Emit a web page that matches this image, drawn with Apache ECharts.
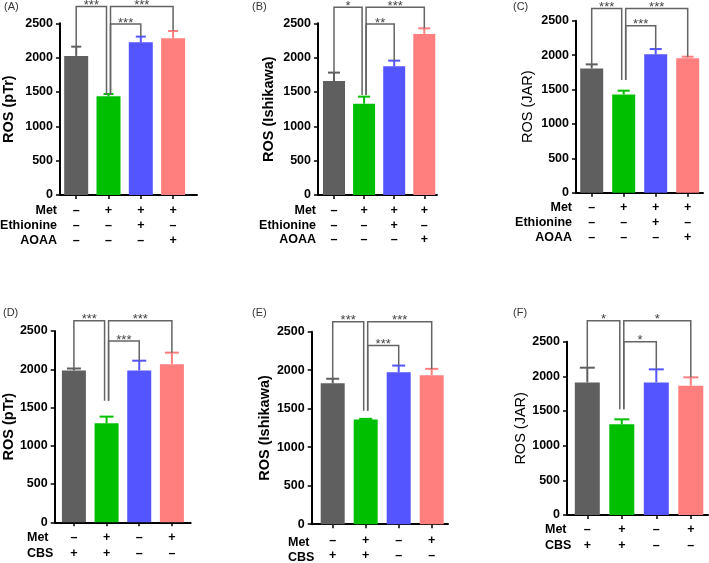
<!DOCTYPE html>
<html><head><meta charset="utf-8">
<script src="https://cdn.jsdelivr.net/npm/echarts/dist/echarts.min.js"></script>
<style>html,body{margin:0;padding:0;background:#fff}#c{width:709px;height:563px}</style>
</head><body><div id="c"></div><script>
// ---------------- data ----------------
const barColors = ['#5f5f5f', '#00bf00', '#5555ff', '#ff7f7f'];
const groupIndex = [0, 1, 2, 3];
const yMin = 0, yMax = 2500, yStep = 500;

const meanA = [2025, 1437, 2223, 2282], errA = [135, 34, 83, 106];
const meanB = [1660, 1330, 1874, 2345], errB = [122, 102, 82, 82];
const meanC = [1807, 1429, 2011, 1953], errC = [58, 54, 77, 24];
const meanD = [1985, 1294, 1985, 2064], errD = [25, 87, 127, 153];
const meanE = [1829, 1359, 1974, 1936], errE = [60, 9, 86, 81];
const meanF = [1913, 1308, 1913, 1865], errF = [212, 72, 188, 121];

const metABC = ['–', '+', '+', '+'];
const ethionineABC = ['–', '–', '+', '–'];
const aoaaABC = ['–', '–', '–', '+'];
const metDEF = ['–', '+', '–', '+'];
const cbsDEF = ['+', '+', '–', '–'];

// significance brackets: [from, to, bracket level, from-leg end, to-leg end, stars]
const sigA = [[0, 1, 2743, 2160, 1456, '***'], [1, 3, 2743, 1456, 2393, '***'], [1, 2, 2490, 1456, 2306, '***']];
const sigB = [[0, 1, 2733, 1782, 1456, '*'], [1, 3, 2733, 1456, 2427, '***'], [1, 2, 2490, 1456, 1956, '**']];
const sigC = [[0, 1, 2679, 1865, 1637, '***'], [1, 3, 2679, 1637, 1977, '***'], [1, 2, 2427, 1637, 2088, '***']];
const sigD = [[0, 1, 2635, 2012, 1590, '***'], [1, 3, 2635, 1590, 2217, '***'], [1, 2, 2369, 1590, 2112, '***']];
const sigE = [[0, 1, 2628, 1889, 1474, '***'], [1, 3, 2628, 1474, 2017, '***'], [1, 2, 2321, 1474, 2060, '***']];
const sigF = [[0, 1, 2803, 2125, 1524, '*'], [1, 3, 2803, 1524, 1986, '*'], [1, 2, 2500, 1524, 2101, '*']];

// ---------------- panels ----------------
const FONT = "'Liberation Sans', Arial, Helvetica, sans-serif";
const rowsABC = [{name: 'Met', marks: metABC}, {name: 'Ethionine', marks: ethionineABC}, {name: 'AOAA', marks: aoaaABC}];
const rowsDEF = [{name: 'Met', marks: metDEF}, {name: 'CBS', marks: cbsDEF}];

const panels = [
  {tag: '(A)', yName: 'ROS (pTr)', means: meanA, errs: errA, rows: rowsABC, sig: sigA,
   L: {axisX: 60, axisEnd: 197, top: 23.3, bottom: 195, tick0: 76.2, band: 32.3, barW: 24, capW: 10, nameGap: 44, nameBold: true,
       labelMargin: 8.5, lineH: 15, rowX: 57, rowAlign: 'right', tagX: 4, tagY: 7}},
  {tag: '(B)', yName: 'ROS (Ishikawa)', means: meanB, errs: errB, rows: rowsABC, sig: sigB,
   L: {axisX: 318, axisEnd: 437, top: 23.3, bottom: 195, tick0: 334, band: 30.1, barW: 22, capW: 12, nameGap: 42, nameBold: true,
       labelMargin: 8.75, lineH: 14.5, rowX: 316, rowAlign: 'right', tagX: 252, tagY: 7}},
  {tag: '(C)', yName: 'ROS (JAR)', means: meanC, errs: errC, rows: rowsABC, sig: sigC,
   L: {axisX: 576, axisEnd: 703, top: 20.7, bottom: 192.7, tick0: 591.7, band: 32, barW: 23, capW: 12, nameGap: 41, nameBold: false,
       labelMargin: 7.8, lineH: 15, rowX: 572, rowAlign: 'right', tagX: 513, tagY: 7}},
  {tag: '(D)', yName: 'ROS (pTr)', means: meanD, errs: errD, rows: rowsDEF, sig: sigD,
   L: {axisX: 53.3, axisEnd: 190.7, top: 331, bottom: 522.3, tick0: 72.7, band: 33, barW: 24, capW: 14, nameGap: 35, nameBold: true,
       labelMargin: 7.7, lineH: 16, rowX: 27, rowAlign: 'left', tagX: 3, tagY: 313}},
  {tag: '(E)', yName: 'ROS (Ishikawa)', means: meanE, errs: errE, rows: rowsDEF, sig: sigE,
   L: {axisX: 311.7, axisEnd: 448, top: 331.7, bottom: 526.7, tick0: 332.7, band: 33, barW: 24, capW: 13, nameGap: 38, nameBold: true,
       labelMargin: 8.8, lineH: 15, rowX: 288, rowAlign: 'left', tagX: 252, tagY: 313}},
  {tag: '(F)', yName: 'ROS (JAR)', means: meanF, errs: errF, rows: rowsDEF, sig: sigF,
   L: {axisX: 567, axisEnd: 708, top: 341.7, bottom: 515, tick0: 587.3, band: 34.5, barW: 25, capW: 15, nameGap: 39, nameBold: false,
       labelMargin: 7, lineH: 16, rowX: 545, rowAlign: 'left', tagX: 513, tagY: 313}}
];

const grids = [], xAxes = [], yAxes = [], series = [], graphics = [];
panels.forEach((p, k) => {
  const L = p.L;
  grids.push({left: L.axisX, top: L.top, width: L.axisEnd - L.axisX, height: L.bottom - L.top});
  const minX = -(L.tick0 - L.axisX) / L.band;
  const maxX = (L.axisEnd - L.tick0) / L.band;
  xAxes.push({
    gridIndex: k, type: 'value', min: minX, max: maxX, splitLine: {show: false},
    axisLine: {show: true, onZero: false, lineStyle: {color: '#000', width: 2}},
    axisTick: {show: true, customValues: groupIndex, length: 4, lineStyle: {color: '#000', width: 1.5}},
    axisLabel: {show: true, customValues: groupIndex,
      formatter: v => p.rows.map(r => r.marks[Math.round(v)]).join('\n'),
      fontFamily: FONT, fontWeight: 'bold', fontSize: 12.5, lineHeight: L.lineH, margin: L.labelMargin, color: '#000'}
  });
  yAxes.push({
    gridIndex: k, type: 'value', min: yMin, max: yMax, interval: yStep, splitLine: {show: false},
    name: p.yName, nameLocation: 'middle', nameGap: L.nameGap,
    nameTextStyle: {fontFamily: FONT, fontSize: 14.5, fontWeight: L.nameBold ? 'bold' : 'normal', color: '#000'},
    axisLine: {show: true, onZero: false, lineStyle: {color: '#000', width: 2}},
    axisTick: {show: true, length: 4, lineStyle: {color: '#000', width: 1.5}},
    axisLabel: {formatter: v => String(v), fontFamily: FONT, fontWeight: 'bold', fontSize: 12.5, color: '#000', margin: 7}
  });
  series.push({
    type: 'bar', xAxisIndex: k, yAxisIndex: k, barWidth: L.barW, animation: false,
    data: p.means.map((m, i) => ({value: [groupIndex[i], m], itemStyle: {color: barColors[i]}}))
  });
  series.push({
    type: 'custom', xAxisIndex: k, yAxisIndex: k, animation: false, clip: false, z: 3,
    data: p.means.map((m, i) => [groupIndex[i], m, p.errs[i]]),
    renderItem: (params, api) => {
      const i = api.value(0), m = api.value(1), e = api.value(2);
      const b = api.coord([i, m]), t = api.coord([i, m + e]);
      const c = barColors[params.dataIndex];
      const hw = L.capW / 2;
      return {type: 'group', children: [
        {type: 'line', shape: {x1: b[0], y1: b[1], x2: t[0], y2: t[1]}, style: {stroke: c, lineWidth: 2}},
        {type: 'line', shape: {x1: t[0] - hw, y1: t[1], x2: t[0] + hw, y2: t[1]}, style: {stroke: c, lineWidth: 2}}
      ]};
    }
  });
  series.push({
    type: 'custom', xAxisIndex: k, yAxisIndex: k, animation: false, clip: false, z: 4,
    data: p.sig.map(s => s.slice(0, 5)),
    renderItem: (params, api) => {
      const a = api.value(0), b = api.value(1), lvl = api.value(2), e1 = api.value(3), e2 = api.value(4);
      const p1 = api.coord([a, lvl]), p2 = api.coord([b, lvl]);
      const x1 = p1[0] + (a === 1 ? 2 : 0), x2 = p2[0] - (b === 1 ? 2 : 0);
      const y1b = api.coord([a, e1])[1], y2b = api.coord([b, e2])[1];
      return {type: 'group', children: [
        {type: 'polyline', shape: {points: [[x1, y1b], [x1, p1[1]], [x2, p1[1]], [x2, y2b]]},
         style: {stroke: '#646464', lineWidth: 1.5, fill: null}},
        {type: 'text', x: (x1 + x2) / 2, y: p1[1] - 1,
         style: {text: p.sig[params.dataIndex][5], align: 'center', verticalAlign: 'middle',
                 fontFamily: FONT, fontSize: 13, fill: '#444'}}
      ]};
    }
  });
  // row labels of the treatment table
  p.rows.forEach((r, ri) => {
    graphics.push({type: 'text', x: L.rowX, y: L.bottom + L.labelMargin + L.lineH * (ri + 0.5),
      style: {text: r.name, align: L.rowAlign, verticalAlign: 'middle', fontFamily: FONT, fontWeight: 'bold', fontSize: 12.5, fill: '#000'}});
  });
  graphics.push({type: 'text', x: L.tagX, y: L.tagY,
    style: {text: p.tag, align: 'left', verticalAlign: 'middle', fontFamily: FONT, fontSize: 11, fill: '#333'}});
});

const chart = echarts.init(document.getElementById('c'), null, {renderer: 'canvas'});
chart.setOption({
  animation: false,
  backgroundColor: '#fff',
  grid: grids, xAxis: xAxes, yAxis: yAxes, series: series, graphic: graphics
});
</script></body></html>
